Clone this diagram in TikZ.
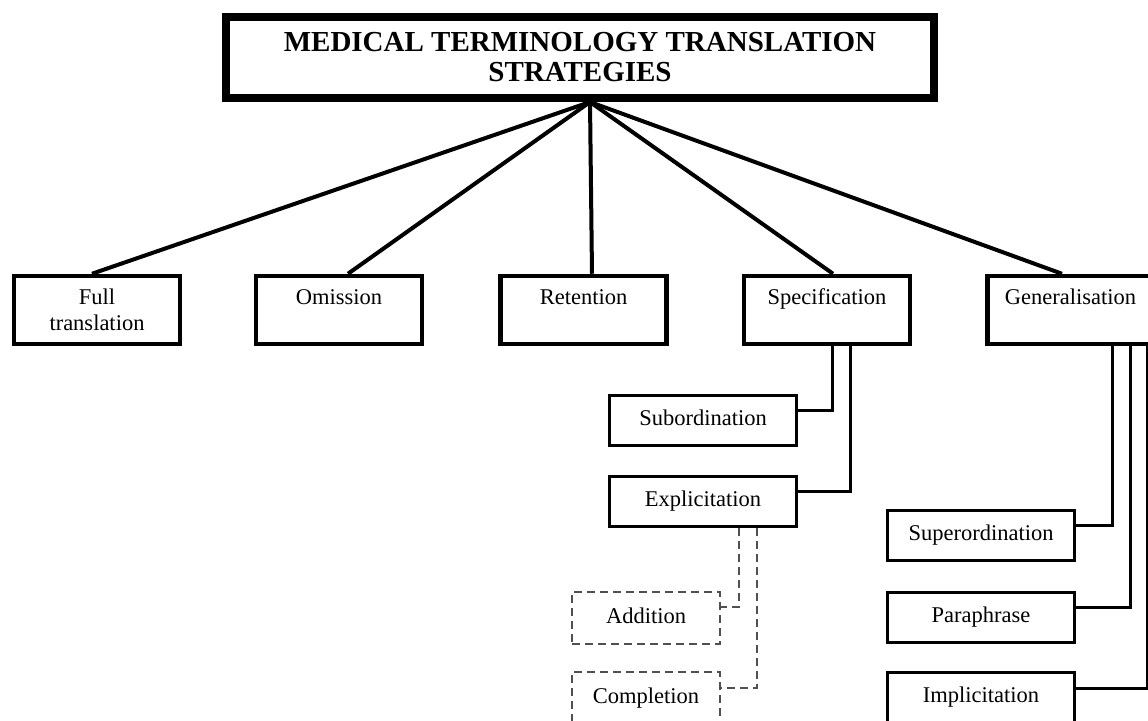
\documentclass[tikz,border=0pt]{standalone}
\usepackage{fontspec}
\setmainfont{Liberation Serif}
\definecolor{dgray}{HTML}{505050}
\begin{document}
\begin{tikzpicture}[x=1pt,y=-1pt,
  every node/.style={inner sep=0pt, align=center, font=\fontsize{22.5}{26}\selectfont},
  topbox/.style={draw, line width=8pt, minimum width=708pt, minimum height=81pt,
    font=\fontsize{29}{30}\selectfont\bfseries},
  mainbox/.style={draw, line width=4.5pt, minimum width=166pt, minimum height=68pt},
  subbox/.style={draw, line width=3pt, minimum width=187pt, minimum height=50pt,
    text height=15pt, text depth=5pt},
  dbox/.style={draw=dgray, line width=2.5pt, dash pattern=on 8pt off 5pt,
    minimum width=148pt, minimum height=52pt, text height=15pt, text depth=5pt},
  tline/.style={line width=4pt},
  sline/.style={line width=3pt},
  dline/.style={draw=dgray, line width=2.5pt, dash pattern=on 8pt off 5pt}]
\useasboundingbox (0,0) rectangle (1148,720);

\node[topbox] (title) at (580,57.5) {MEDICAL TERMINOLOGY TRANSLATION\\STRATEGIES};
\coordinate (hub) at ([xshift=10pt]title.south);

\node[mainbox] (full) at (97,310) {Full\\translation};
\node[mainbox] (omi)  at (339,310) {Omission\\\mbox{}};
\node[mainbox] (ret)  at (583.5,310) {Retention\\\mbox{}};
\node[mainbox] (spec) at (827,310) {Specification\\\mbox{}};
\node[mainbox] (gen)  at (1070.5,310) {Generalisation\\\mbox{}};

\node[subbox] (sub)  at (703,420) {Subordination};
\node[subbox] (expl) at (703,501.5) {Explicitation};
\node[dbox] (add)  at (646,618) {Addition};
\node[dbox] (comp) at (646,698) {Completion};

\node[subbox] (sup)  at (981,535) {Superordination};
\node[subbox] (para) at (981,617) {Paraphrase};
\node[subbox] (impl) at (981,697) {Implicitation};

\draw[tline] (hub) -- ([xshift=-5pt]full.north);
\draw[tline] (hub) -- ([xshift=9pt]omi.north);
\draw[tline] (hub) -- ([xshift=8.5pt]ret.north);
\draw[tline] (hub) -- ([xshift=6pt]spec.north);
\draw[tline] (hub) -- ([xshift=-8.5pt]gen.north);

\draw[sline] ([xshift=5pt]spec.south) |- ([yshift=10pt]sub.east);
\draw[sline] ([xshift=23pt]spec.south) |- ([yshift=10pt]expl.east);

\draw[dline] ([xshift=36pt]expl.south) |- ([yshift=11pt]add.east);
\draw[dline] ([xshift=54pt]expl.south) |- ([yshift=10pt]comp.east);

\draw[sline] ([xshift=41.5pt]gen.south) |- ([yshift=10pt]sup.east);
\draw[sline] ([xshift=59.5pt]gen.south) |- ([yshift=10pt]para.east);
\draw[sline] ([xshift=76.5pt]gen.south) |- ([yshift=9pt]impl.east);
\end{tikzpicture}
\end{document}
